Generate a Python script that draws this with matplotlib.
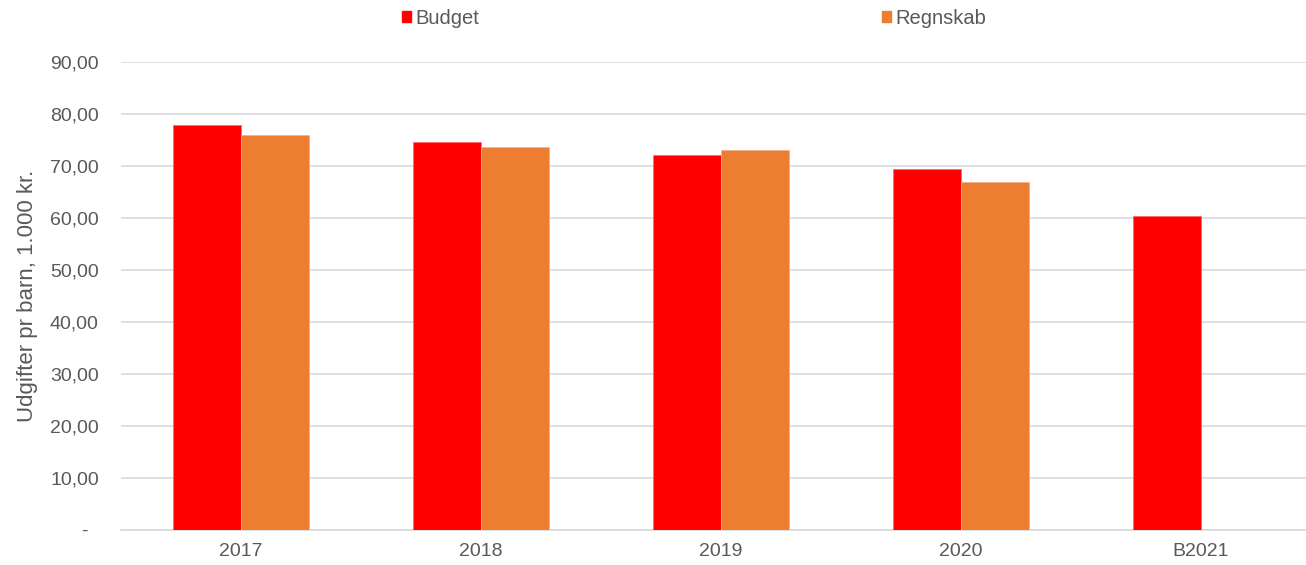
import numpy as np
import matplotlib.pyplot as plt
from matplotlib.patches import Patch

plt.rcParams['font.family'] = ['Liberation Sans', 'DejaVu Sans']

# data
years = ["2017", "2018", "2019", "2020", "B2021"]
budget = [77.8, 74.7, 72.1, 69.5, 60.3]
regnskab = [76.0, 73.7, 73.0, 67.0, np.nan]
yticks = [0, 10, 20, 30, 40, 50, 60, 70, 80, 90]
ytick_labels = ["-  ", "10,00", "20,00", "30,00", "40,00", "50,00", "60,00", "70,00", "80,00", "90,00"]

red = "#FF0000"
orange = "#ED7D31"
grey_txt = "#595959"

fig = plt.figure(figsize=(13.06, 5.65), dpi=100)
# axes runs a little past the right edge like the original
ax = fig.add_axes([121 / 1306, 35 / 565, 1200 / 1306, 468 / 565])

x = np.arange(len(years))
w = 0.283
ax.bar(x - w / 2, budget, width=w, color=red, edgecolor="#FF6666", linewidth=0.5, zorder=3)
ax.bar(x + w / 2, regnskab, width=w, color=orange, edgecolor="#F5B08A", linewidth=0.5, zorder=3)

ax.set_xlim(-0.5, len(years) - 0.5)
ax.set_ylim(0, 90)
ax.set_yticks(yticks)
ax.set_yticklabels(ytick_labels)
ax.set_xticks(x)
ax.set_xticklabels(years)
ax.tick_params(axis="both", length=0, labelsize=14, colors=grey_txt)
ax.tick_params(axis="y", pad=16)
ax.tick_params(axis="x", pad=9)

ax.yaxis.grid(True, color="#D9D9D9", linewidth=1.2, zorder=0)
for s in ["top", "right", "left"]:
    ax.spines[s].set_visible(False)
ax.spines["bottom"].set_color("#D9D9D9")
ax.spines["bottom"].set_linewidth(1.2)

ax.set_ylabel("Udgifter pr barn, 1.000 kr.", fontsize=16, color=grey_txt)
ax.yaxis.set_label_coords(-0.069, 0.5)

handles = [Patch(color=red), Patch(color=orange)]
fig.legend(handles, ["Budget", "Regnskab"], loc="center", bbox_to_anchor=(694 / 1306, 1 - 18 / 565),
           ncol=2, frameon=False, fontsize=14.5, labelcolor=grey_txt,
           handlelength=0.45, handleheight=0.45, handletextpad=0.2, columnspacing=20)

fig.savefig("out.png", dpi=100)
